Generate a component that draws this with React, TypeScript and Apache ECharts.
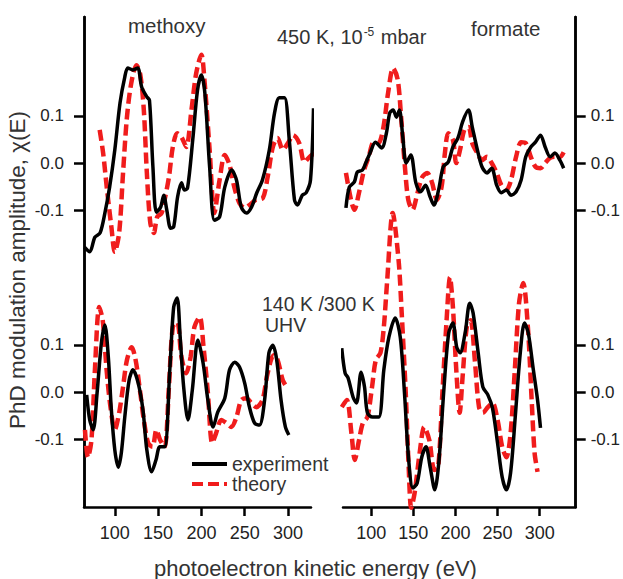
import React, { useEffect, useRef } from "react";
import * as echarts from "echarts";

// energy (eV), chi(E)
const methoxy450Exp: [number, number][] = [
  [65, -0.178], [71, -0.188], [77, -0.157], [83, -0.148], [88.5, -0.106], [94, -0.051], [100, 0.028], [106, 0.127],
  [111.5, 0.182], [115, 0.201], [121, 0.197], [126.5, 0.201], [131, 0.161], [137, 0.14], [140, 0.133], [144, -0.008],
  [148, -0.104], [153, -0.093], [156.5, -0.068], [160, -0.099], [164.5, -0.138], [168, -0.135], [172.5, -0.072],
  [177, -0.042], [180.5, -0.057], [184, -0.053], [190, 0.049], [195.5, 0.154], [200, 0.186], [204, 0.148],
  [209.5, -0.008], [215, -0.121], [221, -0.114], [227, -0.051], [235, -0.015], [240.5, -0.036], [246, -0.093],
  [252, -0.106], [258, -0.093], [264, -0.063], [270.5, -0.036], [278.5, 0.028], [284.5, 0.106], [290, 0.138],
  [296, 0.138], [301.5, 0.049], [307.5, -0.078], [311, -0.089], [316.5, -0.068], [321, -0.063], [326, -0.036],
  [329.5, 0.116],
];
const methoxy450Theory: [number, number][] = [
  [82.5, 0.07], [86.5, 0.021], [91, -0.057], [96, -0.135], [100, -0.188], [105, -0.148], [109.5, -0.021], [114, 0.097],
  [119, 0.169], [125, 0.207], [129.5, 0.186], [133.5, 0.112], [137, -0.021], [141, -0.127], [145, -0.148], [149, -0.114],
  [154, -0.106], [157.5, -0.078], [162.5, -0.03], [167, 0.034], [172, 0.063], [177, 0.055], [182.5, 0.034],
  [188.5, 0.112], [194, 0.19], [200, 0.229], [203.5, 0.176], [209.5, 0.028], [215, -0.106], [221, -0.036],
  [227, 0.017], [232.5, -0.004], [238, -0.051], [244, -0.085], [250, -0.095], [255.5, -0.089], [263, -0.078],
  [271, -0.074], [276.5, -0.03], [282.5, 0.034], [288, 0.053], [294, 0.028], [300, 0.042], [306, 0.059], [313, 0.042],
  [319, 0.002], [325, 0.013], [330.5, 0.021],
];
const formate450Exp: [number, number][] = [
  [70, -0.095], [74, -0.051], [80, -0.04], [83.5, -0.019], [89.5, -0.015], [93.5, 0], [99, 0.023], [105, 0.044],
  [112.5, 0.032], [118, 0.063], [122, 0.106], [126, 0.112], [130, 0.097], [133.5, 0.112], [137.5, 0.055], [141.5, 0],
  [147, 0.017], [153, -0.042], [158.5, -0.061], [164.5, -0.047], [170, -0.072], [174.5, -0.089], [180, -0.057],
  [185.5, -0.008], [191.5, 0.002], [197, 0.034], [203, 0.053], [208.5, 0.087], [215.5, 0.112], [220, 0.076],
  [226, 0.028], [231.5, -0.008], [237.5, -0.021], [243, -0.011], [249, -0.047], [254.5, -0.063], [260.5, -0.057],
  [266, -0.068], [272, -0.061], [278, -0.036], [283.5, 0.013], [289.5, 0.034], [295, 0.044], [301, 0.059],
  [306.5, 0.034], [312.5, 0.013], [318, 0.021], [324, 0.006], [328.5, -0.011],
];
const formate450Theory: [number, number][] = [
  [70, -0.021], [76, -0.078], [80, -0.099], [85.5, -0.063], [91.5, -0.015], [97, 0.013], [103, 0.044], [108.5, 0.042],
  [114.5, 0.076], [120, 0.148], [126, 0.201], [131.5, 0.176], [135.5, 0.097], [140, -0.008], [144, -0.078],
  [149, -0.099], [155, -0.063], [160.5, -0.03], [166.5, -0.021], [172, -0.04], [178, -0.078], [183.5, -0.051],
  [187.5, 0.021], [191.5, 0.063], [197, 0.049], [201, 0], [205.5, 0.028], [210.5, 0.07], [215.5, 0.076], [220, 0.042],
  [226, 0.021], [231.5, 0.006], [237.5, 0.013], [243, 0], [249, -0.021], [254.5, -0.047], [260.5, -0.057],
  [266, -0.036], [272, 0.013], [278, 0.044], [283.5, 0.042], [289.5, 0.013], [295, -0.008], [301, -0.011],
  [306.5, 0], [312.5, 0.011], [318, 0.013], [324, 0.013], [328.5, 0.023],
];
const methoxy140Exp: [number, number][] = [
  [67.5, -0.006], [71, -0.059], [75, -0.08], [79.5, -0.002], [84.5, 0.104], [88.5, 0.142], [92.5, 0.074], [96, -0.038],
  [100, -0.123], [104, -0.159], [107.5, -0.129], [111.5, -0.053], [116.5, 0.025], [121, 0.047], [127, 0.019],
  [132.5, -0.038], [137, -0.123], [142.5, -0.169], [147.5, -0.144], [152, -0.116], [157.5, -0.116], [163.5, 0.047],
  [168, 0.18], [172, 0.199], [175.5, 0.116], [179.5, 0.011], [184.5, -0.059], [189.5, 0.004], [196, 0.11],
  [202, 0.061], [207.5, -0.017], [213.5, -0.074], [219, -0.042], [227, -0.013], [232.5, 0.047], [238.5, 0.063],
  [244, 0.053], [250, 0.019], [255.5, -0.032], [261.5, -0.066], [267, -0.07], [273, -0.017], [278, 0.083],
  [282.5, 0.099], [287, 0.068], [292, -0.017], [297, -0.074], [301, -0.091],
];
const methoxy140Theory: [number, number][] = [
  [65.5, -0.08], [69, -0.138], [73, -0.102], [77, 0.047], [82, 0.18], [86, 0.152], [90.5, 0.047], [95, -0.032],
  [100, -0.08], [105, -0.044], [109.5, 0.011], [114, 0.068], [119.5, 0.095], [124, 0.068], [129, 0.004],
  [133.5, -0.059], [138.5, -0.108], [143.5, -0.116], [148, -0.08], [152.5, -0.102], [157.5, -0.116], [162.5, 0.011],
  [167, 0.138], [172, 0.148], [177, 0.074], [182.5, 0.04], [187.5, 0.074], [192, 0.138], [198, 0.159], [202.5, 0.095],
  [207.5, -0.002], [212.5, -0.108], [217, -0.087], [223, -0.059], [229, -0.066], [234.5, -0.074], [240.5, -0.053],
  [246, -0.017], [252, -0.013], [257.5, -0.023], [263.5, -0.032], [270.5, -0.017], [276.5, 0.04], [283.5, 0.078],
  [288, 0.068], [294, 0.025], [298.5, 0.011],
];
const formate300Exp: [number, number][] = [
  [65, 0.093], [69, 0.04], [72.5, 0.03], [78.5, -0.011], [82.5, -0.023], [88, 0.042], [92, 0.011], [95.5, -0.044],
  [101.5, -0.053], [109, -0.053], [115, 0.047], [121, 0.116], [128.5, 0.157], [134.5, 0.116], [139.5, -0.002],
  [144.5, -0.144], [149.5, -0.203], [154.5, -0.193], [160, -0.138], [165, -0.116], [170, -0.159], [175.5, -0.207],
  [180.5, -0.144], [186.5, 0.011], [192, 0.125], [197, 0.146], [201.5, 0.095], [205.5, 0.083], [211.5, 0.125],
  [217, 0.188], [221, 0.167], [227, 0.083], [232.5, 0.011], [238.5, -0.006], [244, -0.034], [250, -0.108],
  [255.5, -0.18], [260.5, -0.207], [265.5, -0.171], [271, -0.053], [277, 0.083], [282, 0.146], [286.5, 0.125],
  [292.5, 0.047], [297.5, -0.017], [301, -0.076],
];
const formate300Theory: [number, number][] = [
  [65, -0.032], [71, -0.017], [76.5, -0.087], [80.5, -0.144], [85.5, -0.102], [90, -0.066], [95.5, -0.053],
  [101, 0.011], [105.5, 0.068], [111, 0.083], [115, 0.138], [119, 0.237], [125.5, 0.379], [132.5, 0.279],
  [136, 0.174], [141, -0.002], [144.5, -0.159], [147.5, -0.245], [151.5, -0.214], [157.5, -0.129], [163, -0.074],
  [169, -0.102], [175, -0.165], [179.5, -0.159], [184.5, -0.002], [189.5, 0.152], [193.5, 0.243], [197, 0.18],
  [201, 0.047], [205, -0.044], [208.5, 0.032], [213.5, 0.138], [218, 0.152], [223, 0.068], [228, -0.032],
  [232.5, -0.044], [238.5, -0.032], [244, -0.023], [250, -0.059], [255.5, -0.116], [260.5, -0.138], [265.5, -0.087],
  [270.5, 0.047], [275.5, 0.188], [280.5, 0.231], [286, 0.138], [290.5, -0.017], [294, -0.129], [297.5, -0.169],
];

const xTicks = [100, 150, 200, 250, 300];
const yTicks = [-0.1, 0, 0.1];

const NARROW = "'Liberation Sans Narrow', 'Arial Narrow', 'Liberation Sans', Arial, sans-serif";
const SANS = "'Liberation Sans', Arial, sans-serif";
const TEXT = "#333";

export default function App() {
  const ref = useRef<HTMLDivElement>(null);
  useEffect(() => {
    if (!ref.current) return;
    const chart = echarts.init(ref.current, undefined, { renderer: "svg" });
    const leftRect = { left: 84, top: 17, width: 227, height: 490 };
    const rightRect = { left: 343, top: 17, width: 239, height: 490 };
    const axisLine = { show: true, onZero: false, lineStyle: { color: "#000", width: 2.5 } };
    const xShown = (gridIndex: number, min: number, max: number) => ({
      type: "value", gridIndex, min, max,
      axisLine,
      axisTick: { show: true, customValues: xTicks, length: 9, lineStyle: { color: "#000", width: 2.5 } },
      axisLabel: { customValues: xTicks, margin: 17, fontSize: 18, fontFamily: NARROW, color: "#222" },
      splitLine: { show: false },
    });
    const xHidden = (gridIndex: number, min: number, max: number) => ({
      type: "value", gridIndex, min, max, show: false,
    });
    const yAx = (gridIndex: number, min: number, max: number, position: string) => ({
      type: "value", gridIndex, min, max, position,
      axisLine,
      axisTick: { show: true, customValues: yTicks, length: 10, lineStyle: { color: "#000", width: 2.5 } },
      axisLabel: {
        customValues: yTicks, margin: position === "left" ? 20 : 15, fontSize: 17, fontFamily: NARROW, color: "#222",
        formatter: (v: number) => v.toFixed(1),
      },
      splitLine: { show: false },
    });
    const expStyle = { color: "#000", width: 3.5 };
    const thStyle = { color: "#f01c1c", width: 4.5, type: [11, 5], cap: "butt" };
    const mk = (name: string, data: [number, number][], idx: number, style: any, z: number) => ({
      type: "line", name, data, xAxisIndex: idx, yAxisIndex: idx, symbol: "none", smooth: 0.3,
      clip: false, lineStyle: style, itemStyle: { color: style.color }, z,
    });
    chart.setOption({
      animation: false,
      grid: [
        { ...leftRect }, { ...leftRect }, { ...rightRect }, { ...rightRect },
      ],
      xAxis: [
        xHidden(0, 64.4, 326.6), xShown(1, 64.4, 326.6), xHidden(2, 66.5, 342.8), xShown(3, 66.5, 342.8),
      ],
      yAxis: [
        yAx(0, -0.728, 0.309, "left"), yAx(1, -0.2434, 0.794, "left"),
        yAx(2, -0.728, 0.309, "right"), yAx(3, -0.2434, 0.794, "right"),
      ],
      legend: {
        data: ["experiment", "theory"], orient: "vertical", left: 185, top: 449, itemWidth: 35, itemHeight: 14,
        itemGap: 0, selectedMode: false,
        itemStyle: { opacity: 0 },
        lineStyle: { width: 4 },
        textStyle: { fontSize: 19.5, lineHeight: 19, color: TEXT, fontFamily: SANS },
      },
      series: [
        mk("theory", methoxy450Theory, 0, thStyle, 2),
        mk("experiment", methoxy450Exp, 0, expStyle, 3),
        mk("theory", formate450Theory, 2, thStyle, 2),
        mk("experiment", formate450Exp, 2, expStyle, 3),
        mk("theory", methoxy140Theory, 1, thStyle, 2),
        mk("experiment", methoxy140Exp, 1, expStyle, 3),
        mk("theory", formate300Theory, 3, thStyle, 2),
        mk("experiment", formate300Exp, 3, expStyle, 3),
      ],
      graphic: [
        { type: "text", x: 128, y: 25, style: { text: "methoxy", fontSize: 20.5, fontFamily: SANS, fill: TEXT, verticalAlign: "middle" } },
        { type: "text", x: 471, y: 28.5, style: { text: "formate", fontSize: 20.5, fontFamily: SANS, fill: TEXT, verticalAlign: "middle" } },
        {
          type: "text", x: 277, y: 37,
          style: {
            text: "{a|450 K, 10}{s|-5}{a| mbar}", fontFamily: SANS, fill: TEXT, verticalAlign: "middle",
            rich: {
              a: { fontSize: 20, fontFamily: SANS, fill: TEXT },
              s: { fontSize: 12, fontFamily: SANS, fill: TEXT, padding: [0, 1, 11, 1] },
            },
          },
        },
        { type: "text", x: 262, y: 303.5, style: { text: "140 K /300 K", fontSize: 19.5, fontFamily: SANS, fill: TEXT, verticalAlign: "middle" } },
        { type: "text", x: 265, y: 325, style: { text: "UHV", fontSize: 19.5, fontFamily: SANS, fill: TEXT, verticalAlign: "middle" } },
        {
          type: "text", x: 17, y: 270, rotation: Math.PI / 2,
          style: { text: "PhD modulation amplitude, \u03c7(E)", fontSize: 22.5, fontFamily: SANS, fill: TEXT, align: "center", verticalAlign: "middle" },
        },
        {
          type: "text", x: 315.5, y: 568,
          style: { text: "photoelectron kinetic energy (eV)", fontSize: 22, fontFamily: SANS, fill: TEXT, align: "center", verticalAlign: "middle" },
        },
      ],
    });
    return () => chart.dispose();
  }, []);
  return <div ref={ref} style={{ position: "absolute", left: 0, top: 0, width: 623, height: 579, background: "#fff" }} />;
}
